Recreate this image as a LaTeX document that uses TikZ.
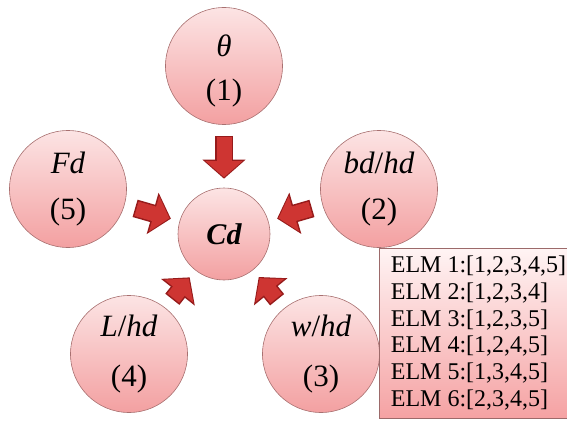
\documentclass[tikz,border=0pt]{standalone}
\usepackage{fontspec}
\setmainfont{Liberation Serif}
\usetikzlibrary{arrows.meta}
\definecolor{pinktop}{HTML}{FCE4E4}
\definecolor{pinkbot}{HTML}{F3A0A1}
\definecolor{rim}{HTML}{A87070}
\definecolor{arrowdark}{HTML}{961B1B}
\definecolor{arrowred}{HTML}{CE3532}
\definecolor{boxtop}{HTML}{FFF4F4}
\definecolor{boxbot}{HTML}{F5A2A3}
\definecolor{boxrim}{HTML}{9C6A6A}
\begin{document}
\begin{tikzpicture}[x=1pt,y=-1pt,
  factor/.style={circle, minimum size=117pt, inner sep=0pt, draw=rim,
    line width=0.6pt, top color=pinktop, bottom color=pinkbot},
  hub/.style={factor, minimum size=92pt},
  sym/.style={font=\fontsize{31}{34}\selectfont\itshape, inner sep=0pt},
  num/.style={font=\fontsize{31}{34}\selectfont, inner sep=0pt},
  hubtext/.style={font=\fontsize{30}{33}\selectfont\bfseries\itshape, inner sep=0pt},
  feedrim/.style={line width=18pt, arrowdark,
    -{Triangle[width=42pt,length=19pt]}, shorten <=11pt, shorten >=9pt},
  feedcore/.style={line width=15pt, arrowred,
    -{Triangle[width=36pt,length=16pt]}, shorten <=12.5pt, shorten >=10.5pt},
  listbox/.style={rectangle, draw=boxrim, line width=0.7pt,
    top color=boxtop, bottom color=boxbot,
    minimum width=189pt, minimum height=170pt},
  listtext/.style={align=left, inner sep=0pt,
    font=\fontsize{24}{26.8}\selectfont}]
\useasboundingbox (0,0) rectangle (567,425);

% factors around the central coefficient
\node[factor] (c1) at (224,66) {};
\node[factor] (c2) at (379,189) {};
\node[factor] (c3) at (321,354) {};
\node[factor] (c4) at (129,354) {};
\node[factor] (c5) at (68,189) {};
\node[hub] (cd) at (224,234) {};

% labels inside the circles
\node[sym] (s1) at ([yshift=20pt]c1.center) {θ};
\node[num] (n1) at ([yshift=-27pt]c1.center) {(1)};
\node[sym] (s2) at ([yshift=26pt]c2.center) {bd\textup{/}hd};
\node[num] (n2) at ([yshift=-23pt]c2.center) {(2)};
\node[sym] (s3) at ([yshift=28pt]c3.center) {w\textup{/}hd};
\node[num] (n3) at ([yshift=-25pt]c3.center) {(3)};
\node[sym] (s4) at ([yshift=28pt]c4.center) {L\textup{/}hd};
\node[num] (n4) at ([yshift=-25pt]c4.center) {(4)};
\node[sym] (s5) at ([yshift=26pt]c5.center) {Fd};
\node[num] (n5) at ([yshift=-23pt]c5.center) {(5)};
\node[hubtext] (hd) at (cd.center) {Cd};

% block arrows pointing at the hub
\foreach \src in {c1,c2,c3,c4,c5}{
  \draw[feedrim] (\src) -- (cd);
  \draw[feedcore] (\src) -- (cd);
}

% list of model input sets
\node[listbox] (elm) at (473.5,333) {};
\node[listtext, anchor=west] (elmtext) at ([xshift=12pt]elm.west)
  {ELM 1:[1,2,3,4,5]\\ELM 2:[1,2,3,4]\\ELM 3:[1,2,3,5]\\ELM 4:[1,2,4,5]\\ELM 5:[1,3,4,5]\\ELM 6:[2,3,4,5]};
\end{tikzpicture}
\end{document}
